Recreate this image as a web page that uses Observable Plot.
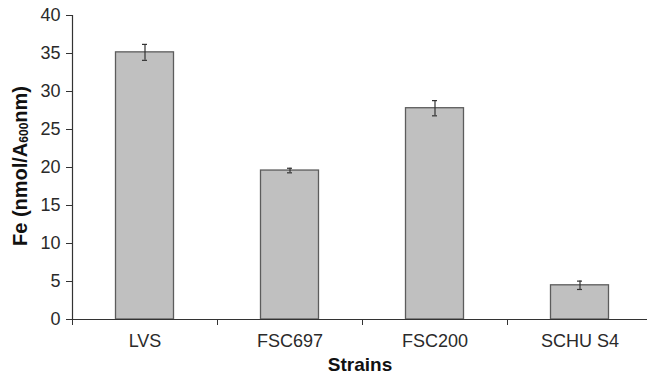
<!DOCTYPE html>
<html>
<head>
<meta charset="utf-8">
<script src="https://cdn.jsdelivr.net/npm/d3@7"></script>
<script src="https://cdn.jsdelivr.net/npm/@observablehq/plot@0.6"></script>
<style>
  html, body { margin: 0; padding: 0; background: #fff; }
  #chart { width: 647px; height: 375px; }
</style>
</head>
<body>
<div id="chart"></div>
<script>
const categories = ["LVS", "FSC697", "FSC200", "SCHU S4"];
const values = [35.15, 19.6, 27.8, 4.5];
const errors = [1.05, 0.3, 1.0, 0.55];
const yTicks = [0, 5, 10, 15, 20, 25, 30, 35, 40];
const yLabelMain = "Fe (nmol/A";
const yLabelSub = "600";
const yLabelEnd = "nm)";
const xTitle = "Strains";

const data = categories.map((c, i) => ({i, c, v: values[i], e: errors[i]}));
const boundaries = d3.range(categories.length + 1);
const centers = categories.map((c, i) => i + 0.5);

const font = "'Liberation Sans', Arial, Helvetica, sans-serif";

const plot = Plot.plot({
  width: 647,
  height: 375,
  marginLeft: 72,
  marginRight: 0,
  marginTop: 15,
  marginBottom: 56,
  style: {fontFamily: font, fontSize: "18px", color: "#2a2a2a", background: "#fff"},
  x: {domain: [0, categories.length], range: [72, 652]},
  y: {domain: [0, 40], range: [319, 15]},
  marks: [
    Plot.rect(data, {x1: d => d.i + 0.3, x2: d => d.i + 0.7, y1: 0, y2: "v",
      fill: "#c0c0c0", stroke: "#5c5c5c", strokeWidth: 1.3}),
    Plot.ruleX(data, {x: d => d.i + 0.5, y1: d => d.v - d.e, y2: d => d.v + d.e, stroke: "#333", strokeWidth: 1.2}),
    Plot.ruleY(data, {y: d => d.v + d.e, x1: d => d.i + 0.5, x2: d => d.i + 0.5, insetLeft: -2.5, insetRight: -2.5, stroke: "#333", strokeWidth: 1.2}),
    Plot.ruleY(data, {y: d => d.v - d.e, x1: d => d.i + 0.5, x2: d => d.i + 0.5, insetLeft: -2.5, insetRight: -2.5, stroke: "#333", strokeWidth: 1.2}),
    Plot.axisY({ticks: yTicks, tickSize: 6, tickPadding: 6, fontSize: 18, label: null, stroke: "#333"}),
    Plot.axisX({ticks: boundaries, tickSize: 6, tickFormat: () => "", label: null, stroke: "#333"}),
    Plot.axisX({ticks: centers, tickSize: 0, tickPadding: 15, fontSize: 18,
      tickFormat: t => categories[Math.floor(t)], label: null}),
    Plot.ruleX([0], {stroke: "#333", strokeWidth: 1.2}),
    Plot.ruleY([0], {stroke: "#333", strokeWidth: 1.2}),
    Plot.text([xTitle], {frameAnchor: "bottom", dy: 45, lineAnchor: "middle", fontWeight: "bold", fontSize: 19, fill: "#111"})
  ]
});

document.getElementById("chart").appendChild(plot);

const svg = d3.select(plot);
const yl = svg.append("text")
  .attr("transform", "translate(20,166) rotate(-90)")
  .attr("text-anchor", "middle")
  .attr("dominant-baseline", "central")
  .attr("font-family", font)
  .attr("font-weight", "bold")
  .attr("font-size", 20)
  .attr("fill", "#111");
yl.append("tspan").text(yLabelMain);
yl.append("tspan").attr("font-size", 12).attr("dy", 4).text(yLabelSub);
yl.append("tspan").attr("dy", -4).text(yLabelEnd);
</script>
</body>
</html>
